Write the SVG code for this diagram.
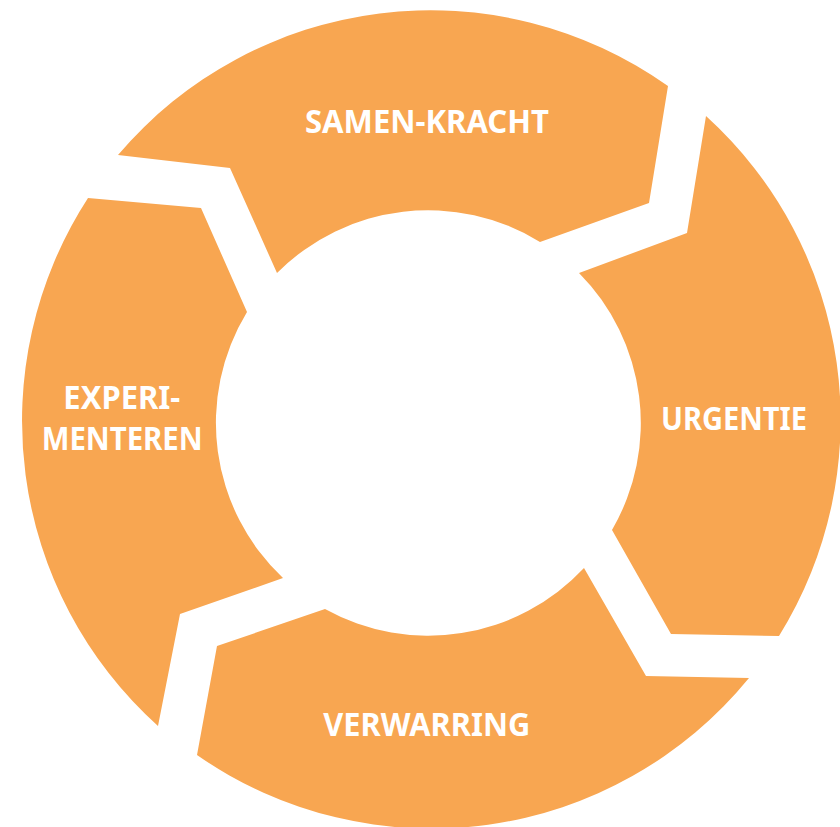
<svg xmlns="http://www.w3.org/2000/svg" width="840" height="827" viewBox="0 0 840 827">
  <style>
    .seg { fill: #F8A651; }
    .lbl { fill: #FFFFFF; font-family: "Noto Sans", "Open Sans", sans-serif; font-weight: 700; font-size: 32px; }
  </style>
  <rect width="840" height="827" fill="#FFFFFF"/>
  <!-- ring segments: outer arc, arrow-shaped ends, inner arc -->
  <g id="samen-kracht">
    <path class="seg" d="M118,155 A410,410 0 0 1 668,86 L649,203 L540,242 A213,213 0 0 0 277,273 L230,168 Z"/>
    <text class="lbl" x="305" y="132.7" textLength="244" lengthAdjust="spacingAndGlyphs">SAMEN-KRACHT</text>
  </g>
  <g id="urgentie">
    <path class="seg" d="M706,116 A410,410 0 0 1 779,636 L671,634 L612,530 A213,213 0 0 0 579,273 L687,233 Z"/>
    <text class="lbl" x="661" y="430.3" textLength="146" lengthAdjust="spacingAndGlyphs">URGENTIE</text>
  </g>
  <g id="verwarring">
    <path class="seg" d="M749,678 A410,410 0 0 1 197,755 L217,646 L325,609 A213,213 0 0 0 584,568 L646,676 Z"/>
    <text class="lbl" x="323.3" y="735.7" textLength="207" lengthAdjust="spacingAndGlyphs">VERWARRING</text>
  </g>
  <g id="experimenteren">
    <path class="seg" d="M158,726 A410,410 0 0 1 88,198 L201,208 L247,312 A213,213 0 0 0 283,578 L180,614 Z"/>
    <text class="lbl" x="63.3" y="409.3" textLength="117" lengthAdjust="spacingAndGlyphs">EXPERI-</text>
    <text class="lbl" x="41.7" y="450" textLength="161" lengthAdjust="spacingAndGlyphs">MENTEREN</text>
  </g>
  <g id="connectors"/>
</svg>
